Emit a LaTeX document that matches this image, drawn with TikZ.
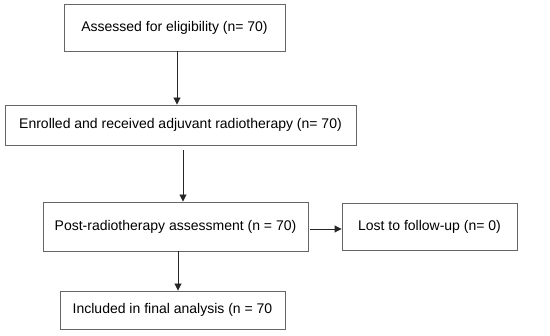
\documentclass[tikz,border=0pt]{standalone}
\usepackage{fontspec}
\setmainfont{Liberation Sans}
\usetikzlibrary{arrows.meta}
\begin{document}
\begin{tikzpicture}[x=1pt,y=-1pt,
  box/.style={draw=black!60,line width=0.9pt,rectangle,inner sep=0pt,font=\fontsize{14}{16}\selectfont},
  arr/.style={draw=black!85,line width=0.9pt,-{Triangle[length=7pt,width=7pt]}}]
\useasboundingbox (0,0) rectangle (550,336);
\node[box,minimum width=221pt,minimum height=47pt] (a) at (174.5,27.5) {Assessed for eligibility (n= 70)};
\node[box,minimum width=351pt,minimum height=40pt] (b) at (180.5,125) {Enrolled and received adjuvant radiotherapy (n= 70)};
\node[box,minimum width=265pt,minimum height=49pt] (c) at (175.5,226.5) {\raisebox{3pt}{Post-radiotherapy assessment (n = 70)}};
\node[box,minimum width=175pt,minimum height=47pt] (d) at (429.5,226.5) {Lost to follow-up (n= 0)\hspace{10pt}};
\node[box,minimum width=225pt,minimum height=38pt] (e) at (172.5,310) {Included in final analysis (n = 70\hspace{4pt}};
\draw[arr] ([xshift=2.5pt]a.south) -- ([xshift=2.5pt]a.south |- b.north);
\draw[arr] ([xshift=2.5pt,yshift=-5pt]b.south) -- ([xshift=2.5pt]b.south |- c.north);
\draw[arr] ([xshift=2.5pt]c.south) -- ([xshift=2.5pt]c.south |- e.north);
\draw[arr] ([xshift=2pt,yshift=-2.5pt]c.east) -- ([yshift=-2.5pt]c.east -| d.west);
\end{tikzpicture}
\end{document}
